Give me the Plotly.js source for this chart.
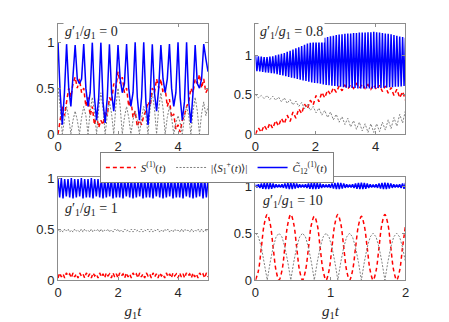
<!DOCTYPE html>
<html>
<head>
<meta charset="utf-8">
<script src="https://cdn.plot.ly/plotly-3.0.1.min.js"></script>
<style>
  html, body { margin: 0; padding: 0; background: #fff; }
  #chart { width: 449px; height: 322px; }
</style>
</head>
<body>
<div id="chart"></div>
<script>

// g1'/g1 = 0  (0 <= g1 t <= 5)
const sA = [0.0,0.15,0.3,0.2, 0.35,0.5,0.4,0.55, 0.62,0.5,0.6,0.45, 0.5,0.3,0.4,0.2,
  0.3,0.1,0.2,0.07, 0.15,0.1,0.25,0.2, 0.4,0.35,0.55,0.5, 0.68,0.55,0.62,0.45,
  0.5,0.3,0.38,0.18, 0.25,0.08,0.15,0.1, 0.2,0.25,0.35,0.3, 0.5,0.45,0.6,0.5,
  0.6,0.45,0.5,0.3, 0.38,0.18,0.22,0.05, 0.1,0.02,0.15,0.2, 0.3,0.35,0.5,0.45,
  0.6,0.55,0.65,0.5, 0.6,0.45,0.5];
const spA = [0.5,0.3,0.0,0.18, 0.3,0.18,0.0,0.15, 0.25,0.15,0.0,0.18, 0.3,0.2,0.0,0.25,
  0.4,0.25,0.0,0.28, 0.45,0.28,0.0,0.2, 0.35,0.22,0.0,0.3, 0.5,0.3,0.0,0.18,
  0.3,0.18,0.0,0.15, 0.25,0.15,0.0,0.18, 0.3,0.2,0.0,0.28, 0.45,0.28,0.0,0.28,
  0.45,0.28,0.0,0.18, 0.3,0.18,0.0,0.12, 0.2,0.12,0.0,0.18, 0.3,0.2,0.0,0.25,
  0.4,0.25,0.0,0.22, 0.35,0.2,0.3];
const cA = [1.0,0.45,0.1,0.45, 0.98,0.5,0.3,0.6, 0.97,0.6,0.55,0.6, 0.98,0.5,0.3,0.45,
  1.0,0.4,0.15,0.4, 1.0,0.35,0.12,0.4, 0.98,0.45,0.25,0.5, 0.97,0.6,0.45,0.55,
  0.98,0.5,0.3,0.45, 1.0,0.4,0.15,0.4, 1.0,0.35,0.1,0.4, 0.98,0.45,0.25,0.5,
  0.97,0.6,0.45,0.6, 0.98,0.5,0.3,0.45, 1.0,0.4,0.15,0.35, 1.0,0.35,0.12,0.45,
  0.97,0.55,0.5,0.6, 0.98,0.82,0.68];

// g1'/g1 = 0.8  (0 <= g1 t <= 5)
const sB = [0.0,0.08,0.02,0.11,0.05,0.14,0.07,0.17,0.1,0.2,
  0.13,0.24,0.16,0.28,0.2,0.32,0.26,0.38,0.32,0.43,
  0.37,0.49,0.41,0.53,0.46,0.56,0.5,0.59,0.53,0.61,
  0.55,0.62,0.57,0.63,0.58,0.64,0.58,0.64,0.58,0.63,
  0.57,0.63,0.56,0.62,0.54,0.61,0.52,0.59,0.49,0.57,
  0.46,0.54,0.43];
const spB = [0.5,0.46,0.49,0.45,0.49,0.44,0.48,0.43,0.47,0.41,
  0.46,0.39,0.44,0.37,0.42,0.35,0.4,0.32,0.38,0.3,
  0.35,0.27,0.33,0.24,0.3,0.21,0.28,0.18,0.25,0.15,
  0.22,0.12,0.2,0.09,0.17,0.06,0.15,0.04,0.13,0.02,
  0.13,0.02,0.13,0.03,0.15,0.05,0.18,0.07,0.21,0.1,
  0.25,0.14,0.3];
const cB = [1.0,0.8,0.99,0.795,0.985,0.79,0.98,0.785,0.98,0.78,0.985,0.775,0.99,0.77,1.0,0.76,1.01,0.75,1.02,0.745,
  1.03,0.735,1.045,0.725,1.06,0.715,1.075,0.71,1.09,0.7,1.105,0.69,1.12,0.68,1.135,0.675,1.15,0.665,1.165,0.655,
  1.18,0.65,1.19,0.645,1.2,0.64,1.215,0.63,1.225,0.625,1.235,0.62,1.245,0.615,1.25,0.61,1.26,0.605,1.265,0.6,
  1.27,0.595,1.275,0.59,1.28,0.59,1.28,0.585,1.285,0.585,1.285,0.58,1.29,0.58,1.29,0.58,1.29,0.58,1.295,0.58,
  1.295,0.58,1.3,0.58,1.295,0.585,1.29,0.585,1.285,0.59,1.28,0.59,1.275,0.595,1.27,0.595,1.26,0.6,1.25,0.6,
  1.24,0.605,1.235,0.61,1.225];

// g1'/g1 = 1  (0 <= g1 t <= 5)
const sC = [0.02,0.07,0.03,0.06,0.02,0.07,0.04,0.06,0.02,0.07,
  0.03,0.06,0.02,0.07,0.04,0.06,0.02,0.07,0.03,0.06,
  0.02,0.07,0.04,0.06,0.02,0.07,0.03,0.06,0.02,0.07,
  0.04,0.06,0.02,0.07,0.03,0.06,0.02,0.07,0.04,0.06,
  0.02,0.07,0.03,0.06,0.02,0.07,0.04,0.06,0.02,0.07,
  0.03,0.06,0.02,0.07,0.04,0.06,0.02,0.07,0.03,0.06,
  0.02,0.07,0.04,0.06,0.02,0.07,0.03,0.06,0.02,0.07,
  0.04,0.06,0.02,0.07,0.03,0.06,0.02,0.07,0.04,0.06,
  0.02,0.07,0.03,0.06,0.02,0.07,0.04,0.06,0.02,0.07,
  0.03];
const spC = [0.5,0.47,0.49,0.47,0.5,0.48,0.5,0.47,0.49,0.47,
  0.5,0.48,0.49,0.47,0.5,0.47,0.5,0.48,0.49,0.47,
  0.5,0.47,0.49,0.48,0.5,0.47,0.5,0.47,0.49,0.48,
  0.5,0.47,0.49,0.47,0.5,0.48,0.5,0.47,0.49,0.47,
  0.5,0.48,0.49,0.47,0.5,0.47,0.5,0.48,0.49,0.47,
  0.5,0.47,0.49,0.48,0.5,0.47,0.5,0.47,0.49,0.48,
  0.5,0.47,0.49,0.47,0.5,0.48,0.5,0.47,0.49,0.47,
  0.5,0.48,0.49,0.47,0.5,0.47,0.5,0.48,0.49,0.47,
  0.5,0.47,0.49,0.48,0.5,0.47,0.5,0.47,0.49,0.48,
  0.5];
const cC = [0.99,0.81,1.0,0.8,0.99,0.82,0.99,0.81,1.0,0.8,
  0.99,0.81,0.99,0.82,1.0,0.8,0.99,0.81,0.99,0.81,
  1.0,0.8,0.99,0.82,0.99,0.81,1.0,0.8,0.99,0.81,
  0.99,0.82,1.0,0.8,0.99,0.81,0.99,0.81,1.0,0.8,
  0.99,0.82,0.99,0.81,1.0,0.8,0.99,0.81,0.99,0.82,
  1.0,0.8,0.99,0.81,0.99,0.81,1.0,0.8,0.99,0.82,
  0.99,0.81,1.0,0.8,0.99,0.81,0.99,0.82,1.0,0.8,
  0.99,0.81,0.99,0.81,1.0,0.8,0.99,0.82,0.99,0.81,
  1.0,0.8,0.99,0.81,0.99,0.82,1.0,0.8,0.99,0.81,
  0.99];

// g1'/g1 = 10  (0 <= g1 t <= 2)
const sD = [0,0.1,0.35,0.6,0.7,0.6,0.35,0.1,
  0,0.1,0.35,0.6,0.7,0.6,0.35,0.1,
  0,0.1,0.34,0.59,0.68,0.59,0.34,0.1,
  0,0.1,0.35,0.6,0.7,0.6,0.35,0.1,
  0,0.1,0.34,0.58,0.68,0.58,0.34,0.1,
  0,0.1,0.35,0.6,0.7,0.6,0.35,0.1,
  0,0.1,0.35,0.58];
const spD = [0.5,0.46,0.35,0.19,0,0.19,0.35,0.46,
  0.5,0.46,0.35,0.19,0,0.19,0.35,0.46,
  0.5,0.46,0.35,0.19,0,0.19,0.35,0.46,
  0.5,0.46,0.35,0.19,0,0.19,0.35,0.46,
  0.5,0.46,0.35,0.19,0,0.19,0.35,0.46,
  0.5,0.46,0.35,0.19,0,0.19,0.35,0.46,
  0.5,0.46,0.35,0.19];
const cD = [1.02,0.989,1.023,0.983,1.031,0.975,1.038,0.97,1.04,0.97,1.038,0.975,1.031,0.983,1.023,0.989,
  1.02,0.99,1.022,0.984,1.03,0.976,1.037,0.971,1.04,0.97,1.037,0.976,1.03,0.984,1.022,0.99,
  1.02,0.989,1.023,0.983,1.031,0.975,1.038,0.97,1.04,0.97,1.038,0.975,1.031,0.983,1.023,0.989,
  1.02,0.99,1.022,0.984,1.03,0.976,1.037,0.971,1.04,0.97,1.037,0.976,1.03,0.984,1.022,0.99,
  1.02,0.989,1.023,0.983,1.031,0.975,1.038,0.97,1.04,0.97,1.038,0.975,1.031,0.983,1.023,0.989,
  1.02,0.99,1.022,0.984,1.03,0.976,1.037,0.971,1.04,0.97,1.037,0.976,1.03,0.984,1.022,0.99,
  1.02,0.989,1.023,0.983,1.031,0.975,1.038];

const ratios = ["0", "0.8", "1", "10"];
const tEnds = [5, 5, 5, 2];
const xTicks = [[0, 2, 4], [0, 2, 4], [0, 2, 4], [0, 1, 2]];
const yMax = [1.2, 1.4, 1.01, 1.1];

const RED = "#ff0000";
const GRAY = "#808080";
const BLUE = "#0000ff";
const SERIF = "Liberation Serif, Times New Roman, serif";
const SANS = "Liberation Sans, Arial, sans-serif";

const legendNames = [
  "<i>S</i><sup>(1)</sup>(<i>t</i>)",
  "|⟨<i>S</i><sub>1</sub><sup>+</sup>(<i>t</i>)⟩|",
  "<i>C\u0303</i><sub>12</sub><sup>(1)</sup>(<i>t</i>)"
];

// uniform time grid for a sampled series
function grid(vals, tEnd) {
  return vals.map((_, i) => i * tEnd / (vals.length - 1));
}

const panels = [[sA, spA, cA], [sB, spB, cB], [sC, spC, cC], [sD, spD, cD]];
const styles = [
  { color: RED, width: 1.5, dash: "4px,3px" },
  { color: GRAY, width: 1, dash: "2px,1.5px" },
  { color: BLUE, width: 1.5, dash: "solid" }
];

const traces = [];
panels.forEach((series, p) => {
  const suffix = p === 0 ? "" : String(p + 1);
  series.forEach((vals, k) => {
    traces.push({
      x: grid(vals, tEnds[p]),
      y: vals,
      type: "scatter",
      mode: "lines",
      name: legendNames[k],
      line: { ...styles[k], shape: (p === 3 && k === 0) ? "spline" : "linear" },
      xaxis: "x" + suffix,
      yaxis: "y" + suffix,
      showlegend: p === 0,
      hoverinfo: "skip"
    });
  });
});

const axisBase = {
  showline: true,
  mirror: "ticks",
  linecolor: "#8c8c8c",
  linewidth: 1,
  ticks: "inside",
  ticklen: 3,
  tickcolor: "#8c8c8c",
  showgrid: false,
  zeroline: false,
  tickfont: { family: SANS, size: 13, color: "#262626" }
};

const xDomains = [[0.1292, 0.4633], [0.5690, 0.9031], [0.1292, 0.4633], [0.5690, 0.9031]];
const yDomains = [[0.5839, 0.9255], [0.5839, 0.9255], [0.1304, 0.4503], [0.1304, 0.4503]];
const labelPos = [[0.15, 1.11], [0.07, 1.29], [0.15, 0.69], [0.08, 0.84]];

const layout = {
  width: 449,
  height: 322,
  margin: { l: 0, r: 0, t: 0, b: 0 },
  paper_bgcolor: "#ffffff",
  plot_bgcolor: "#ffffff",
  showlegend: true,
  legend: {
    orientation: "h",
    x: 0.483,
    xanchor: "center",
    y: 0.528,
    yanchor: "top",
    bgcolor: "#ffffff",
    bordercolor: "#808080",
    borderwidth: 1,
    font: { family: SERIF, size: 11, color: "#262626" },
    itemwidth: 30,
    tracegroupgap: 0
  },
  annotations: []
};

for (let p = 0; p < 4; p++) {
  const suffix = p === 0 ? "" : String(p + 1);
  layout["xaxis" + suffix] = {
    ...axisBase,
    domain: xDomains[p],
    range: [0, tEnds[p]],
    tickvals: xTicks[p],
    ticktext: xTicks[p].map(String),
    anchor: "y" + suffix,
    title: p >= 2 ? { text: "<i>g</i><sub>1</sub><i>t</i>", font: { family: SERIF, size: 15, color: "#262626" }, standoff: 6 } : { text: "" }
  };
  layout["yaxis" + suffix] = {
    ...axisBase,
    domain: yDomains[p],
    range: [0, yMax[p]],
    tickvals: [0, 0.5, 1],
    ticktext: ["0", "0.5", "1"],
    anchor: "x" + suffix
  };
  layout.annotations.push({
    xref: "x" + suffix,
    yref: "y" + suffix,
    x: labelPos[p][0],
    y: labelPos[p][1],
    xanchor: "left",
    yanchor: "middle",
    showarrow: false,
    bgcolor: "#ffffff",
    text: "<i>g</i>′<sub>1</sub>/<i>g</i><sub>1</sub> = " + ratios[p],
    font: { family: SERIF, size: 14, color: "#262626" }
  });
}

Plotly.newPlot("chart", traces, layout, { staticPlot: true, displayModeBar: false });
</script>
</body>
</html>
